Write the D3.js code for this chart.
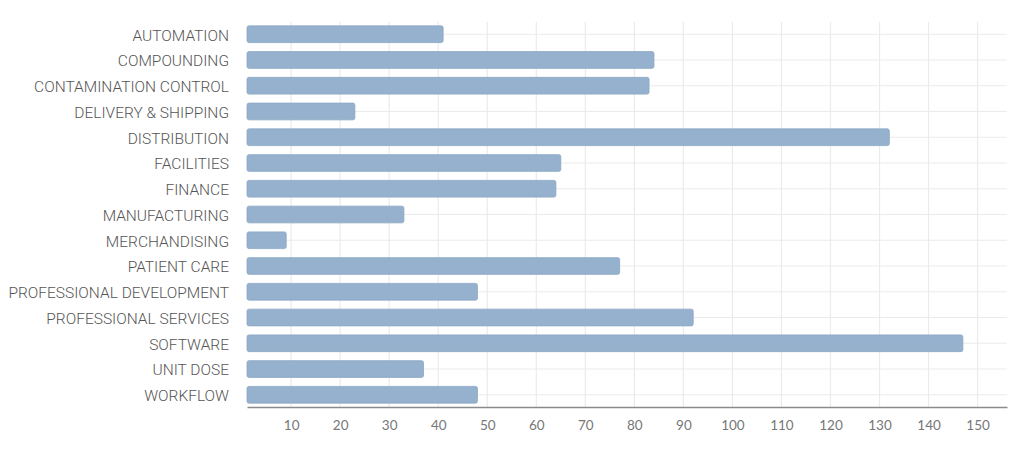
<!DOCTYPE html>
<html lang="en">
<head>
  <meta charset="UTF-8">
  <script src="https://d3js.org/d3.v7.min.js"></script>
  <style>
    body { margin: 0; background: #fff; }
    .bar { fill: #95b1cd; stroke: #8aa7c4; stroke-width: 0.8; }
    .cat { font-family: Roboto, sans-serif; font-weight: 300; font-size: 15.5px; fill: #555; }
    .tick text { font-family: Lato, sans-serif; font-size: 13.5px; fill: #777; }
  </style>
  <title>Bar Chart</title>
</head>
<body>
  <div id="chart"></div>
  <script>
    // categories and counts
    var categories = ["AUTOMATION", "COMPOUNDING", "CONTAMINATION CONTROL", "DELIVERY & SHIPPING",
      "DISTRIBUTION", "FACILITIES", "FINANCE", "MANUFACTURING", "MERCHANDISING", "PATIENT CARE",
      "PROFESSIONAL DEVELOPMENT", "PROFESSIONAL SERVICES", "SOFTWARE", "UNIT DOSE", "WORKFLOW"];
    var values = [41, 84, 83, 23, 132, 65, 64, 33, 9, 77, 48, 92, 147, 37, 48];
    var tickValues = [10, 20, 30, 40, 50, 60, 70, 80, 90, 100, 110, 120, 130, 140, 150];

    var width = 1024, height = 450;
    var plotLeft = 247, plotRight = 1007, plotTop = 22, plotBottom = 407;

    var svg = d3.select("#chart")
      .append("svg")
      .attr("width", width)
      .attr("height", height);

    var x = d3.scaleLinear()
      .domain([1, 156])
      .range([plotLeft, plotRight]);

    var y = d3.scaleBand()
      .domain(categories)
      .range([plotTop, plotBottom])
      .paddingInner(0.35)
      .paddingOuter(0.15);

    // grid
    var grid = svg.append("g").attr("stroke", "#ebebeb").attr("stroke-width", 1.2);
    grid.selectAll(".vline")
      .data(tickValues)
      .enter().append("line")
      .attr("x1", function(d) { return x(d); })
      .attr("x2", function(d) { return x(d); })
      .attr("y1", plotTop)
      .attr("y2", plotBottom);
    grid.selectAll(".hline")
      .data(categories)
      .enter().append("line")
      .attr("x1", plotLeft)
      .attr("x2", plotRight)
      .attr("y1", function(d) { return y(d) + y.bandwidth() / 2; })
      .attr("y2", function(d) { return y(d) + y.bandwidth() / 2; });

    // bars
    svg.selectAll(".bar")
      .data(values)
      .enter().append("rect")
      .attr("class", "bar")
      .attr("x", x(1))
      .attr("y", function(d, i) { return y(categories[i]); })
      .attr("width", function(d) { return x(d) - x(1); })
      .attr("height", y.bandwidth())
      .attr("rx", 2);

    // category labels
    svg.selectAll(".cat")
      .data(categories)
      .enter().append("text")
      .attr("class", "cat")
      .attr("x", plotLeft - 18)
      .attr("y", function(d) { return y(d) + y.bandwidth() / 2 + 1; })
      .attr("dy", "0.35em")
      .attr("text-anchor", "end")
      .text(function(d) { return d; });

    // x axis
    var xAxis = svg.append("g")
      .attr("transform", "translate(0," + plotBottom + ")")
      .call(d3.axisBottom(x).tickValues(tickValues).tickSize(0).tickPadding(13));
    xAxis.select(".domain").attr("stroke", "#8a8a8a").attr("stroke-width", 1.5);
  </script>
</body>
</html>
